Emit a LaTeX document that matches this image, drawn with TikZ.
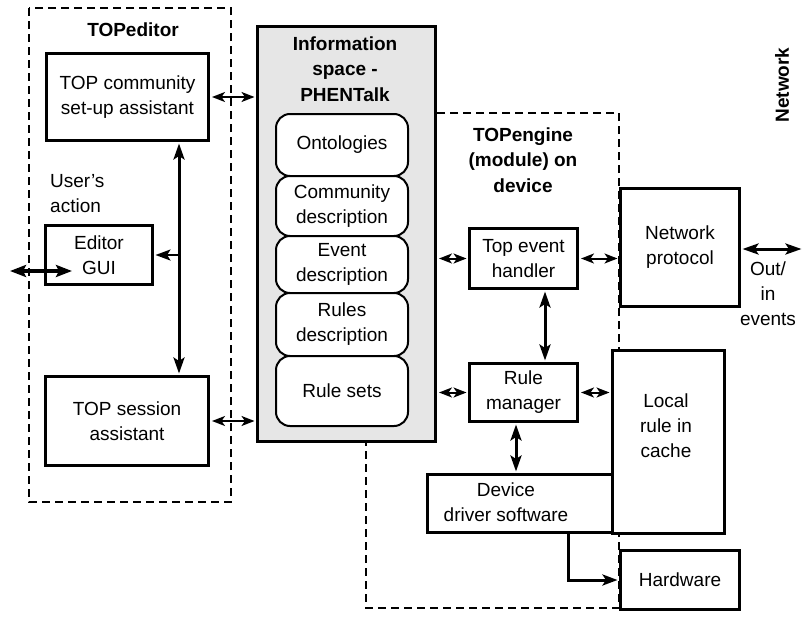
\documentclass[tikz,border=0pt]{standalone}
\usepackage{fontspec}
\setmainfont{Liberation Sans}
\usetikzlibrary{arrows.meta}
\definecolor{infogray}{RGB}{230,230,230}
\begin{document}
\begin{tikzpicture}[x=1pt,y=-1pt,
  every node/.style={font=\fontsize{19}{25}\selectfont, align=center, inner sep=0pt},
  box/.style={draw, line width=3pt, fill=white, anchor=north west},
  rbox/.style={draw, line width=2pt, fill=white, rounded corners=14pt, anchor=north west, minimum width=132pt},
  dashbox/.style={draw, line width=2pt, dash pattern=on 8pt off 5pt},
  title/.style={font=\fontsize{19}{25.5}\selectfont\bfseries},
  dblthin/.style={line width=2pt, {Stealth[length=13pt,width=10pt,inset=3.5pt]}-{Stealth[length=13pt,width=10pt,inset=3.5pt]}, shorten <=2pt, shorten >=1.5pt},
  dblthick/.style={line width=3pt, {Stealth[length=16pt,width=11pt,inset=3.5pt]}-{Stealth[length=16pt,width=11pt,inset=3.5pt]}, shorten <=1.5pt, shorten >=1.5pt},
  onethick/.style={line width=2.5pt, -{Stealth[length=15pt,width=11pt,inset=3.5pt]}, shorten >=1.5pt},
  dblbig/.style={line width=4pt, {Stealth[length=16pt,width=12pt,inset=3pt]}-{Stealth[length=16pt,width=12pt,inset=3pt]}},
]
\useasboundingbox (0,0) rectangle (806,616);

% dashed group frames
\draw[dashbox] (29,8) rectangle (231,502);
\draw[dashbox] (366,113) rectangle (619,608);

% TOPeditor part
\node[title] (edt) at (133,30) {TOPeditor};
\node[box, minimum width=162pt, minimum height=87pt] (comm) at (45,52) {TOP community\\set-up assistant};
\node[box, minimum width=107pt, minimum height=59pt] (gui) at (44,224) {Editor\\GUI};
\node[box, minimum width=163pt, minimum height=89pt] (sess) at (44,375) {TOP session\\assistant};
\node[anchor=west, align=left] (ua) at (50,194) {User’s\\action};

% Information space
\node[draw, line width=3pt, fill=infogray, anchor=north west, minimum width=178pt, minimum height=415pt] (info) at (256,25) {};
\node[title] (infot) at (345,69) {Information\\space -\\PHENTalk};
\node[rbox, minimum height=62pt] (onto) at (275,113) {Ontologies};
\node[rbox, minimum height=60pt] (commd) at (275,175) {Community\\description};
\node[rbox, minimum height=57pt] (evd) at (275,235) {Event\\description};
\node[rbox, minimum height=63pt] (rud) at (275,292) {Rules\\description};
\node[rbox, minimum height=70pt] (rset) at (275,355) {Rule sets};

% TOPengine part
\node[title] (engt) at (523,160) {TOPengine\\(module) on\\device};
\node[box, minimum width=108pt, minimum height=60pt] (teh) at (468,227) {Top event\\handler};
\node[box, minimum width=119pt, minimum height=118pt] (np) at (619,187) {Network\\protocol};
\node[box, minimum width=108pt, minimum height=58pt] (rm) at (468,362) {Rule\\manager};
\node[box, minimum width=185pt, minimum height=58pt] (dd) at (426,473) {};
\node (ddt) at (506,502) {Device\\driver software};
\node[box, minimum width=112pt, minimum height=183pt] (cache) at (611,349) {};
\node (cachet) at (666,426) {Local\\rule in\\cache};
\node[box, minimum width=119pt, minimum height=59pt] (hw) at (619,549) {Hardware};

% network side labels
\node (outt) at (768,294) {Out/\\in\\events};
\node[title, rotate=90] (nett) at (782,85) {Network};

% helper coordinates
\coordinate (vx) at (179,0);
\coordinate (v2) at (545,0);
\coordinate (v3) at (516,0);
\coordinate (v4) at (568,0);
\coordinate (ext) at (10,271);
\coordinate (extin) at (72,271);
\coordinate (outend) at (803,249);

% connectors
\draw[dblthin] (comm.east) -- (comm.east -| info.west);
\draw[dblthin] (sess.east) -- (sess.east -| info.west);
\draw[dblthick] (vx |- comm.south) -- (vx |- sess.north);
\draw[onethick] (vx |- gui.east) -- (gui.east);
\draw[dblbig] (ext) -- (extin);
\draw[dblthin] (teh.west -| info.east) -- (teh.west);
\draw[dblthin] (teh.east) -- (teh.east -| np.west);
\draw[dblthick] (np.east |- outend) -- (outend);
\draw[dblthick] (v2 |- teh.south) -- (v2 |- rm.north);
\draw[dblthin] (rm.west -| info.east) -- (rm.west);
\draw[dblthin] (rm.east) -- (rm.east -| cache.west);
\draw[dblthick] (v3 |- rm.south) -- (v3 |- dd.north);
\draw[onethick, line width=3pt] (v4 |- dd.south) |- (hw.west);
\end{tikzpicture}
\end{document}
